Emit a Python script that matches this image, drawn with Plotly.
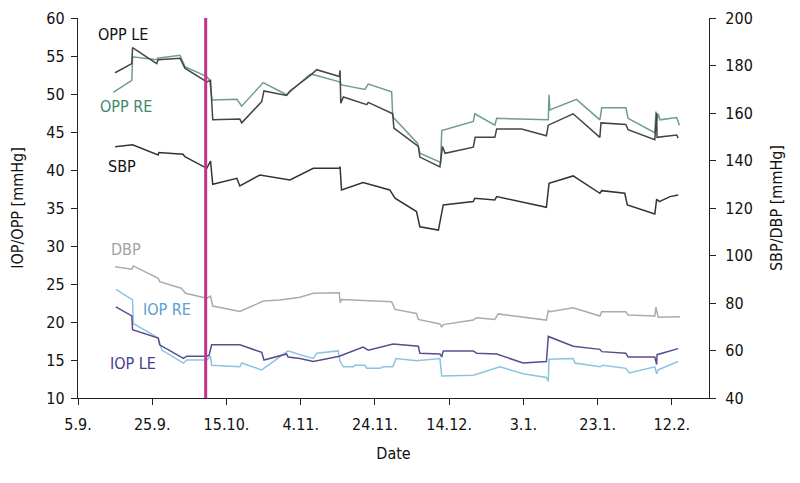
import datetime as dt
import plotly.graph_objects as go

BASE = dt.datetime(2012, 9, 5)

# Day offsets from 5.9. and values
opp_le_day = [10.0, 14.5, 14.7, 21.2, 21.6, 27.5, 28.8, 34.7, 35.7, 36.3, 43.6, 44.1, 49.5, 50.1, 56.2, 57.1,
              62.5, 64.3, 70.4, 70.6, 70.8, 71.5, 77.8, 78.2, 84.8, 85.1, 91.7, 92.1, 97.5, 98.2, 98.9, 106.5,
              107.0, 112.3, 112.8, 119.5, 126.2, 126.7, 133.4, 140.6, 140.9, 147.6, 148.2, 155.4, 155.9, 156.0,
              161.3, 161.7]
opp_le_val = [52.8, 54.0, 56.1, 54.0, 54.5, 54.7, 53.4, 51.6, 51.8, 46.6, 46.7, 46.2, 49.0, 50.4, 49.8, 50.4,
              52.4, 53.2, 52.3, 53.1, 48.8, 49.6, 48.6, 48.9, 47.4, 45.5, 43.1, 41.7, 40.4, 43.1, 42.2, 43.0,
              44.3, 44.3, 45.4, 45.4, 44.5, 45.9, 47.4, 44.3, 46.2, 46.0, 45.3, 44.0, 47.5, 44.3,
              44.6, 44.2]

opp_re_day = [9.5, 14.5, 14.7, 21.2, 21.4, 27.5, 28.8, 34.7, 35.5, 36.1, 42.8, 44.1, 49.9, 56.2, 62.5, 63.8,
              70.4, 71.0, 77.3, 78.2, 84.5, 84.8, 91.5, 92.1, 97.7, 98.0, 106.5, 106.9, 112.3, 112.8, 126.7,
              126.9, 127.1, 134.3, 140.6, 141.1, 147.6, 148.2, 155.4, 155.7, 156.0, 156.3, 156.8, 161.3, 162.0]
opp_re_val = [50.2, 51.8, 54.9, 54.5, 54.7, 55.1, 53.6, 52.3, 51.8, 49.2, 49.3, 48.4, 51.5, 49.9, 52.6, 52.5,
              51.6, 51.2, 50.6, 51.3, 50.3, 47.0, 43.5, 42.2, 41.0, 45.2, 46.4, 47.4, 45.9, 46.8, 46.6,
              49.9, 47.9, 49.3, 46.6, 48.2, 48.2, 46.8, 44.9, 47.7, 46.5, 47.4, 46.6, 46.9, 45.9]

sbp_day = [10.0, 14.7, 21.6, 21.8, 28.3, 28.8, 34.7, 35.7, 36.3, 42.8, 43.6, 49.0, 57.1, 59.8, 63.4, 70.4,
           70.6, 71.0, 76.8, 84.0, 85.4, 91.2, 92.1, 97.1, 98.4, 106.5, 106.9, 112.3, 112.8, 126.2, 126.9,
           133.4, 140.6, 141.1, 147.3, 148.0, 155.4, 155.9, 156.6, 159.5, 161.7]
sbp_val = [145.8, 146.6, 142.3, 143.4, 142.6, 141.6, 136.7, 139.8, 130.0, 132.5, 129.3, 133.9, 131.8, 133.9,
           136.7, 136.7, 137.4, 127.6, 130.7, 127.6, 124.1, 118.5, 112.1, 110.7, 121.3, 122.7, 124.1, 123.4,
           124.8, 120.3, 130.4, 133.5, 126.2, 127.3, 126.2, 121.3, 117.5, 123.7, 122.7, 124.8, 125.5]

dbp_day = [10.0, 14.5, 14.9, 21.6, 22.0, 27.8, 29.0, 34.7, 35.7, 36.3, 43.6, 49.9, 54.4, 59.8, 63.4, 70.4,
           70.6, 71.0, 84.5, 85.4, 91.2, 91.7, 97.5, 98.0, 98.4, 106.5, 107.4, 112.3, 113.2, 126.2, 126.7,
           127.1, 133.4, 140.6, 141.1, 147.6, 148.2, 155.4, 155.7, 156.3, 162.2]
dbp_val = [95.3, 94.2, 95.6, 90.4, 89.0, 86.2, 84.1, 82.0, 82.9, 78.7, 76.4, 80.8, 81.3, 82.4, 84.1, 84.3,
           80.1, 81.5, 80.5, 77.3, 75.6, 73.1, 71.2, 69.8, 70.9, 72.8, 73.8, 73.1, 75.4, 72.8, 76.8,
           76.3, 78.0, 74.5, 76.3, 76.3, 74.9, 74.5, 78.2, 74.0, 74.2]

iop_re_day = [10.2, 14.7, 14.9, 21.6, 22.6, 28.4, 29.3, 34.7, 35.7, 36.0, 43.6, 44.1, 49.5, 56.6, 59.8, 63.4,
              64.3, 70.1, 70.6, 71.5, 74.2, 74.6, 77.3, 77.8, 81.3, 82.3, 84.8, 85.7, 91.2, 97.5, 98.0, 106.5,
              113.7, 119.9, 126.2, 126.7, 126.9, 133.4, 133.9, 140.6, 141.5, 147.6, 148.5, 155.4, 155.9, 156.3,
              161.7]
iop_re_val = [24.3, 22.9, 19.8, 17.9, 16.3, 14.6, 15.0, 15.0, 15.5, 14.3, 14.1, 14.6, 13.7, 16.2, 15.7, 15.2,
              15.9, 16.2, 14.8, 14.1, 14.1, 14.3, 14.3, 13.9, 13.9, 14.1, 14.1, 15.2, 14.9, 15.2, 12.9, 13.0,
              14.1, 13.2, 12.7, 12.2, 15.1, 15.2, 14.6, 14.1, 14.3, 13.9, 13.3, 14.1, 13.2, 13.7,
              14.8]

iop_le_day = [10.2, 14.5, 14.7, 21.6, 22.0, 28.4, 29.3, 34.7, 35.3, 36.0, 43.6, 49.5, 50.1, 56.2, 56.6, 59.8,
              63.4, 70.4, 76.8, 78.2, 84.9, 91.7, 92.1, 97.5, 98.0, 98.4, 106.5, 107.4, 112.8, 119.9, 126.2,
              126.7, 133.4, 140.6, 141.1, 147.6, 148.2, 155.4, 155.9, 156.0, 161.7]
iop_le_val = [22.0, 20.8, 19.0, 17.9, 17.0, 15.2, 15.5, 15.5, 15.6, 17.0, 17.0, 16.0, 15.0, 15.8, 15.4, 15.2,
              14.8, 15.5, 16.7, 16.3, 17.1, 16.8, 15.9, 15.8, 15.4, 16.2, 16.2, 15.9, 15.8, 14.6, 14.8,
              18.1, 16.8, 16.4, 16.1, 15.9, 15.4, 15.4, 14.4, 15.7, 16.5]

marker_day = 34.4
tick_days = [0, 20, 40, 60, 80, 100, 120, 140, 160]
tick_text = ["5.9.", "25.9.", "15.10.", "4.11.", "24.11.", "14.12.", "3.1.", "23.1.", "12.2."]
x_end_day = 170.0


def to_dates(days):
    return [BASE + dt.timedelta(days=d) for d in days]


FONT = "Liberation Sans Narrow, DejaVu Sans Condensed, Arial Narrow, sans-serif"

fig = go.Figure()
series = [
    ("DBP", dbp_day, dbp_val, "#ababab", "y2"),
    ("SBP", sbp_day, sbp_val, "#333333", "y2"),
    ("OPP RE", opp_re_day, opp_re_val, "#6d9e8a", "y"),
    ("OPP LE", opp_le_day, opp_le_val, "#444444", "y"),
    ("IOP RE", iop_re_day, iop_re_val, "#8cc3e3", "y"),
    ("IOP LE", iop_le_day, iop_le_val, "#5a4d8e", "y"),
]
for name, d, v, c, ax in series:
    fig.add_trace(go.Scatter(x=to_dates(d), y=v, mode="lines", name=name, yaxis=ax,
                             line=dict(color=c, width=1.5), showlegend=False))

mx = BASE + dt.timedelta(days=marker_day)
fig.add_shape(type="line", x0=mx, x1=mx, xref="x", yref="paper", y0=0, y1=1,
              line=dict(color="#c2338a", width=3))

labels = [
    ("OPP LE", 12.1, 57.8, "#111111"),
    ("OPP RE", 12.9, 48.3, "#3f8a68"),
    ("SBP", 11.9, 40.4, "#111111"),
    ("DBP", 12.9, 29.6, "#a3a3a3"),
    ("IOP RE", 24.0, 21.6, "#5aa0d2"),
    ("IOP LE", 14.8, 14.6, "#4a3c8c"),
]
for t, d, v, c in labels:
    fig.add_annotation(x=BASE + dt.timedelta(days=d), y=v, xref="x", yref="y", text=t,
                       showarrow=False, font=dict(color=c, size=16, family=FONT))

axis_common = dict(showgrid=False, zeroline=False, showline=True, linecolor="#222222", linewidth=1.3,
                   ticks="outside", ticklen=6, tickcolor="#222222", automargin=False,
                   tickfont=dict(size=16, color="#111111", family=FONT))

# The page body adds an 8px offset, so the figure is slightly smaller than the window.
fig.update_layout(
    width=792, height=475,
    margin=dict(l=70, r=91, t=10, b=85),
    paper_bgcolor="white", plot_bgcolor="white",
    font=dict(family=FONT, size=16, color="#111111"),
    xaxis=dict(range=[BASE, BASE + dt.timedelta(days=x_end_day)],
               tickvals=to_dates(tick_days), ticktext=tick_text, ticklabelstandoff=6,
               title=dict(text="Date", font=dict(size=16, family=FONT), standoff=14), **axis_common),
    yaxis=dict(range=[10, 60], dtick=5, tick0=10, ticklabelstandoff=3,
               title=dict(text="IOP/OPP [mmHg]", font=dict(size=16, family=FONT), standoff=22), **axis_common),
    yaxis2=dict(range=[40, 200], dtick=20, tick0=40, overlaying="y", side="right", ticklabelstandoff=6,
                title=dict(text="SBP/DBP [mmHg]", font=dict(size=16, family=FONT), standoff=18), **axis_common),
)

fig.write_html("out.html")
